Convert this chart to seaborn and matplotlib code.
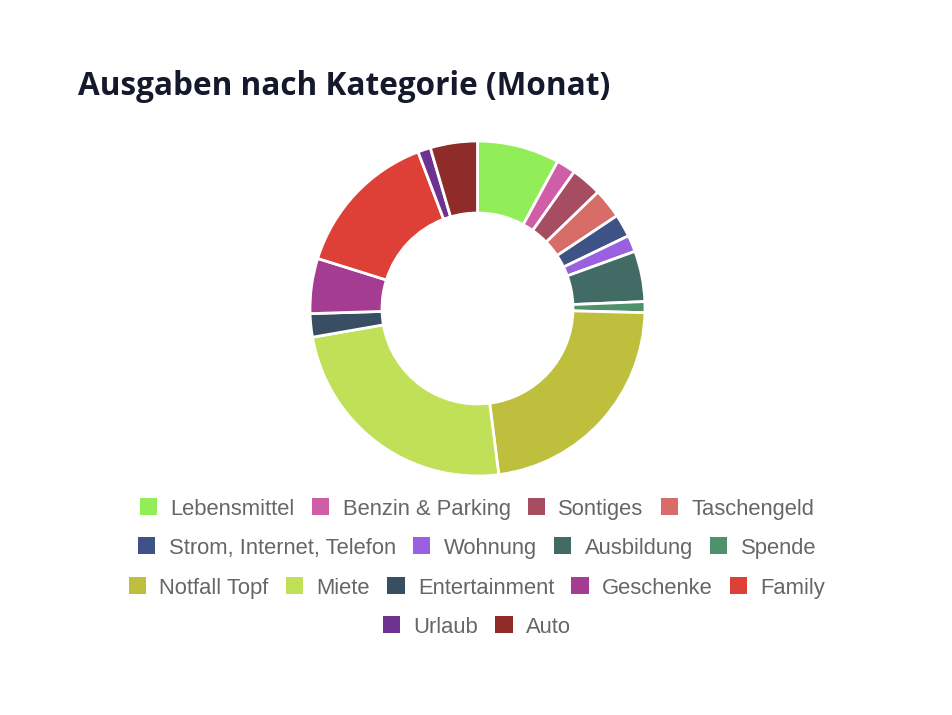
import matplotlib
matplotlib.use('Agg')
import matplotlib.pyplot as plt
import seaborn as sns

# monthly spending per category
kategorien = ['Lebensmittel', 'Benzin & Parking', 'Sontiges', 'Taschengeld',
              'Strom, Internet, Telefon', 'Wohnung', 'Ausbildung', 'Spende',
              'Notfall Topf', 'Miete', 'Entertainment', 'Geschenke', 'Family',
              'Urlaub', 'Auto']
betraege = [278, 65, 104, 101, 77, 56, 171, 37, 790, 850, 79, 186, 504, 43, 159]
farben = ['#91ee58', '#d05ea6', '#a64d62', '#d86c68', '#3f5285', '#9b60e0',
          '#436b66', '#4f916a', '#bfbf3e', '#c0e057', '#374e63', '#a43c91',
          '#de4037', '#6e3290', '#8f2c2a']
legend_rows = [4, 4, 5, 2]

sns.set_theme(style='white')
plt.rcParams['font.family'] = ['Liberation Sans', 'DejaVu Sans']

fig = plt.figure(figsize=(9.53, 7.15), dpi=100)
fig.patch.set_facecolor('white')

ax = fig.add_axes([310 / 953, 239 / 715, 335 / 953, 335 / 715])
wedges, _ = ax.pie(betraege, colors=sns.color_palette(farben), startangle=90,
                   counterclock=False, radius=1,
                   wedgeprops=dict(width=0.43, edgecolor='white', linewidth=2))
ax.set_xlim(-1, 1)
ax.set_ylim(-1, 1)
ax.set_aspect('equal')
ax.axis('off')

fig.text(78 / 953, 1 - 95 / 715, 'Ausgaben nach Kategorie (Monat)',
         fontsize=22.7, fontweight='bold', color='#141a2b',
         family=['Open Sans', 'DejaVu Sans'], va='baseline', ha='left')

# legend: centred rows like in the original
row_y = [509, 548, 588, 627]
start = 0
for n, y in zip(legend_rows, row_y):
    leg = fig.legend(wedges[start:start + n], kategorien[start:start + n],
                     loc='center', bbox_to_anchor=(477 / 953, 1 - y / 715),
                     ncol=n, frameon=False,
                     prop={'family': ['Liberation Sans', 'DejaVu Sans'], 'size': 15.8},
                     handlelength=0.8, handleheight=0.8,
                     handletextpad=0.6, columnspacing=0.78,
                     borderpad=0, borderaxespad=0)
    for t in leg.get_texts():
        t.set_color('#666666')
    for h in leg.legend_handles:
        h.set_edgecolor('none')
    start += n

fig.savefig('out.png', dpi=100, facecolor='white')
